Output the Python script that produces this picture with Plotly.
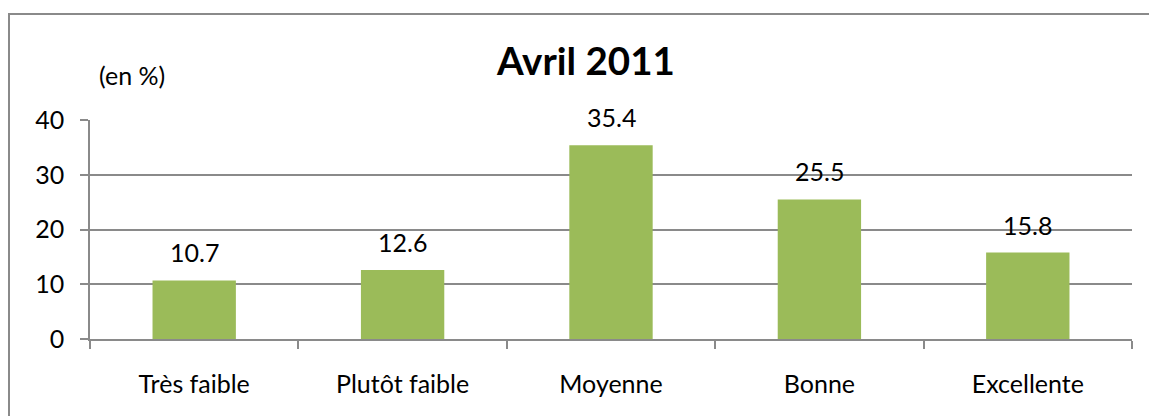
import plotly.graph_objects as go

categories = ["Très faible", "Plutôt faible", "Moyenne", "Bonne", "Excellente"]
values = [10.7, 12.6, 35.4, 25.5, 15.8]
y_ticks = [0, 10, 20, 30, 40]
title_text = "Avril 2011"
unit_text = "(en %)"

W, H = 1149, 416
ML, MR, MT, MB = 90, 17, 120, 77
PW = W - ML - MR
PH = H - MT - MB

def px_x(px):
    return (px - ML) / PW

def px_y(py):
    return (H - MB - py) / PH

FONT = "Lato"
FS = 25
GRAY = "#8a8a8a"

fig = go.Figure(
    go.Bar(
        x=categories,
        y=values,
        marker=dict(color="#9BBB59", line=dict(width=0)),
        hoverinfo="skip",
    )
)

annotations = []
for c, v in zip(categories, values):
    annotations.append(dict(
        x=c, y=v, xref="x", yref="y", text=f"{v:.1f}", showarrow=False,
        yanchor="middle", yshift=28,
        font=dict(family=FONT, size=FS, color="#000000"),
    ))
annotations.append(dict(
    x=px_x(585), y=px_y(60), xref="paper", yref="paper", text=f"<b>{title_text}</b>",
    showarrow=False, xanchor="center", yanchor="middle",
    font=dict(family=FONT, size=38.5, color="#000000"),
))
annotations.append(dict(
    x=px_x(132), y=px_y(75), xref="paper", yref="paper", text=unit_text,
    showarrow=False, xanchor="center", yanchor="middle",
    font=dict(family=FONT, size=FS, color="#000000"),
))

fig.update_layout(
    width=W, height=H,
    margin=dict(l=ML, r=MR, t=MT, b=MB, pad=0),
    paper_bgcolor="white", plot_bgcolor="white",
    bargap=0.6,
    showlegend=False,
    annotations=annotations,
    shapes=[dict(
        type="rect", xref="paper", yref="paper",
        x0=px_x(9), x1=px_x(1160), y0=px_y(430), y1=px_y(14),
        line=dict(color=GRAY, width=2), fillcolor="rgba(0,0,0,0)", layer="below",
    )],
)

fig.update_yaxes(
    range=[0, 40], tickvals=y_ticks,
    showgrid=True, gridcolor=GRAY, gridwidth=1.5,
    showline=True, linecolor=GRAY, linewidth=1.5,
    ticks="outside", ticklen=8, tickcolor=GRAY, tickwidth=1.5,
    tickfont=dict(family=FONT, size=FS, color="#000000"),
    ticklabelstandoff=11,
    zeroline=False, fixedrange=True,
)
fig.update_xaxes(
    showline=True, linecolor=GRAY, linewidth=1.5,
    ticks="outside", ticklen=8, tickcolor=GRAY, tickwidth=1.5,
    tickson="boundaries",
    tickfont=dict(family=FONT, size=FS, color="#000000"),
    ticklabelstandoff=22,
    showgrid=False, fixedrange=True,
)

fig.write_html(
    "out.html",
    config={"displayModeBar": False},
    post_script="document.body.style.margin='0';document.body.style.padding='0';",
)
